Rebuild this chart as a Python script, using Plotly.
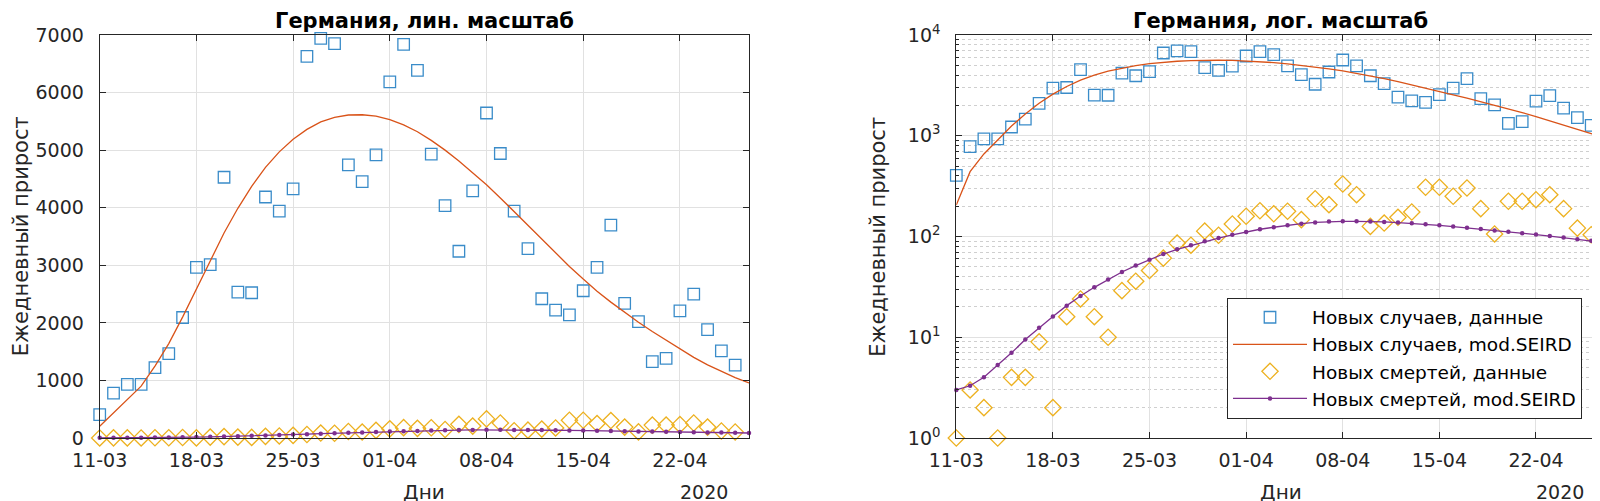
import pandas as pd
import plotly.graph_objects as go

# ---------------- data ----------------
start_date = "2020-03-11"
year_label = "2020"

cases = [405, 779, 930, 930, 1221, 1465, 2093, 2965, 3012, 4529, 2535, 2523, 4186, 3942,
         4326, 6628, 6942, 6849, 4744, 4453, 4919, 6186, 6837, 6384, 4930, 4035, 3244,
         4291, 5645, 4942, 3942, 3291, 2419, 2221, 2140, 2558, 2965, 3698, 2337, 2023,
         1326, 1384, 2209, 2500, 1884, 1512, 1267]
deaths = [1, 3, 2, 1, 4, 4, 9, 2, 16, 24, 16, 10, 29, 36, 46, 61, 86, 82, 113, 103, 133,
          159, 180, 168, 178, 147, 237, 207, 332, 260, 126, 136, 155, 175, 308, 308, 251,
          303, 189, 106, 224, 224, 232, 260, 189, 121, 104]
model_cases = [205, 440, 660, 900, 1250, 1640, 2100, 2590, 3080, 3560, 3990, 4370, 4700,
               4970, 5190, 5360, 5490, 5570, 5610, 5615, 5590, 5530, 5440, 5320, 5170, 5000,
               4810, 4610, 4400, 4170, 3930, 3690, 3450, 3210, 2980, 2760, 2550, 2360, 2180,
               2010, 1850, 1700, 1550, 1400, 1270, 1155, 1050, 955]
model_deaths = [3.0, 3.3, 4.0, 5.3, 7.0, 9.5, 12.4, 16.1, 20.6, 25.7, 31.3, 37.5, 44.4,
                51.4, 58.9, 67, 74.6, 81.7, 89.6, 96.6, 104, 111, 118, 123.5, 129, 134, 138,
                140.5, 141.5, 141.5, 141, 139.5, 137.5, 135, 132, 129, 125.5, 122, 118.5,
                115, 111.5, 108, 104.5, 101, 97.5, 94, 90.5, 87]

names = ["Новых случаев, данные", "Новых случаев, mod.SEIRD",
         "Новых смертей, данные", "Новых смертей, mod.SEIRD"]
titles = ["Германия, лин. масштаб", "Германия, лог. масштаб"]
x_title = "Дни"
y_title = "Ежедневный прирост"
lin_ticks = [0, 1000, 2000, 3000, 4000, 5000, 6000, 7000]
log_ticks = [1, 10, 100, 1000, 10000]
log_ticktext = ["10<sup>0</sup>", "10<sup>1</sup>", "10<sup>2</sup>", "10<sup>3</sup>", "10<sup>4</sup>"]

data_dates = pd.date_range(start_date, periods=len(cases), freq="D")
model_dates = pd.date_range(start_date, periods=len(model_cases), freq="D")

# ---------------- style ----------------
FONT = "DejaVu Sans"
C_BLUE = "#3A8CC9"
C_ORANGE = "#D95319"
C_YELLOW = "#EDB120"
C_PURPLE = "#7E2F8E"
AX = "#262626"
GRID = "#e1e1e1"

W, H = 1600, 501
L1, R1 = 91.7, 741.0
L2, R2 = 948.3, 1597.0
TOP, BOT = 27, 430

fig = go.Figure()

for i, (xa, ya, show) in enumerate([("x", "y", False), ("x2", "y2", True)]):
    fig.add_trace(go.Scatter(x=data_dates, y=cases, mode="markers", name=names[0],
                             marker=dict(symbol="square-open", size=11.5, color=C_BLUE,
                                         line=dict(width=1.3, color=C_BLUE)),
                             xaxis=xa, yaxis=ya, showlegend=show, cliponaxis=False))
    fig.add_trace(go.Scatter(x=model_dates, y=model_cases, mode="lines", name=names[1],
                             line=dict(color=C_ORANGE, width=1.3),
                             xaxis=xa, yaxis=ya, showlegend=show))
    fig.add_trace(go.Scatter(x=data_dates, y=deaths, mode="markers", name=names[2],
                             marker=dict(symbol="diamond-open", size=12.5, color=C_YELLOW,
                                         line=dict(width=1.3, color=C_YELLOW)),
                             xaxis=xa, yaxis=ya, showlegend=show, cliponaxis=False))
    fig.add_trace(go.Scatter(x=model_dates, y=model_deaths, mode="lines+markers", name=names[3],
                             line=dict(color=C_PURPLE, width=1.3),
                             marker=dict(symbol="circle", size=4.5, color=C_PURPLE),
                             xaxis=xa, yaxis=ya, showlegend=show, cliponaxis=False))

xrange = [model_dates[0], model_dates[-1]]
xcommon = dict(range=xrange, type="date", tickformat="%d-%m", dtick=7 * 86400000,
               tick0=start_date, ticks="inside", ticklen=6, tickcolor=AX, tickwidth=1,
               showline=True, linecolor=AX, linewidth=1, mirror="ticks",
               showgrid=True, gridcolor=GRID, gridwidth=1, zeroline=False, automargin=False,
               tickfont=dict(family=FONT, size=19, color=AX), ticklabelstandoff=5)

fig.update_layout(
    width=W, height=H,
    margin=dict(l=0, r=0, t=TOP, b=H - BOT, autoexpand=False),
    paper_bgcolor="white", plot_bgcolor="white",
    font=dict(family=FONT, color=AX),
    xaxis=dict(domain=[L1 / W, R1 / W], anchor="y", **xcommon),
    xaxis2=dict(domain=[L2 / W, R2 / W], anchor="y2", **xcommon),
    yaxis=dict(range=[0, 7000], tickvals=lin_ticks, ticks="inside", ticklen=6,
               tickcolor=AX, showline=True, linecolor=AX, linewidth=1, mirror="ticks",
               showgrid=True, gridcolor=GRID, zeroline=False, anchor="x", automargin=False,
               tickfont=dict(family=FONT, size=19, color=AX), ticklabelstandoff=11),
    yaxis2=dict(type="log", range=[0, 4], tickvals=log_ticks, ticktext=log_ticktext,
                ticks="inside", ticklen=6, tickcolor=AX, showline=True, linecolor=AX,
                linewidth=1, mirror="ticks", showgrid=True, gridcolor=GRID, zeroline=False,
                anchor="x2", automargin=False,
                tickfont=dict(family=FONT, size=19, color=AX), ticklabelstandoff=11,
                minor=dict(tickvals=[m * 10 ** e for e in range(4) for m in range(2, 10)],
                           ticks="inside", ticklen=3, tickcolor=AX, showgrid=True,
                           gridcolor="#cfcfcf", griddash="dot", gridwidth=1)),
    legend=dict(x=1574 / W, y=(BOT - 410.7) / (BOT - TOP), xanchor="right", yanchor="bottom",
                bgcolor="white", bordercolor=AX, borderwidth=1,
                font=dict(family=FONT, size=18.5, color="black"), itemwidth=74,
                tracegroupgap=0),
)

ann = []
for (l, r), t in zip([(L1, R1), (L2, R2)], titles):
    cx = (l + r) / 2 / W
    ann.append(dict(text="<b>" + t + "</b>", x=cx, y=(BOT - 13) / (BOT - TOP), xref="paper", yref="paper",
                    xanchor="center", yanchor="middle", showarrow=False,
                    font=dict(family=FONT, size=21, color="black")))
    ann.append(dict(text=x_title, x=cx, y=(BOT - 484) / (BOT - TOP), xref="paper", yref="paper",
                    xanchor="center", yanchor="middle", showarrow=False,
                    font=dict(family=FONT, size=20, color=AX)))
    ann.append(dict(text=year_label, x=(r - 19) / W, y=(BOT - 484) / (BOT - TOP), xref="paper",
                    yref="paper", xanchor="right", yanchor="middle", showarrow=False,
                    font=dict(family=FONT, size=19, color=AX)))
    ann.append(dict(text=y_title, x=(l - 79) / W, y=0.5, xref="paper", yref="paper",
                    xanchor="center", yanchor="middle", textangle=-90, showarrow=False,
                    font=dict(family=FONT, size=21, color=AX)))
fig.update_layout(annotations=ann)

fig.write_html("out.html")
